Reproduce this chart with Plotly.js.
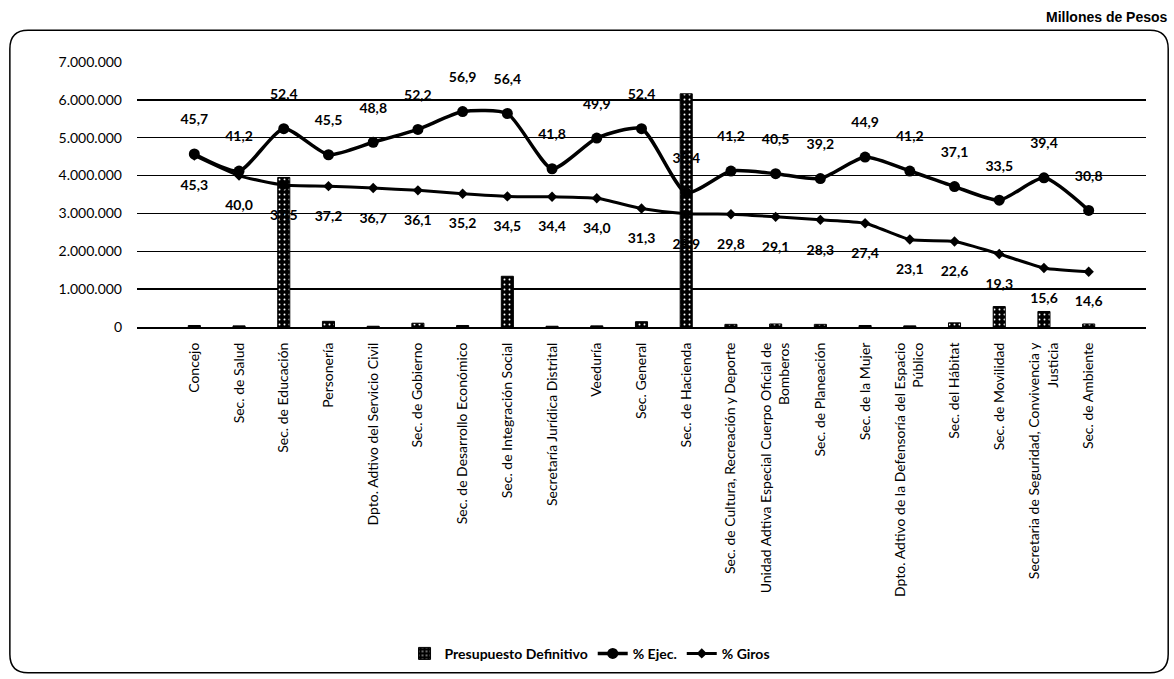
<!DOCTYPE html>
<html>
<head>
<meta charset="utf-8">
<script src="https://cdn.plot.ly/plotly-3.0.1.min.js"></script>
<style>html,body{margin:0;padding:0;background:#fff;}#chart{width:1174px;height:679px;}</style>
</head>
<body>
<div id="chart"></div>
<script>
var categories = [
  "Concejo",
  "Sec. de Salud",
  "Sec. de Educación",
  "Personería",
  "Dpto. Adtivo del Servicio Civil",
  "Sec. de Gobierno",
  "Sec. de Desarrollo Económico",
  "Sec. de Integración Social",
  "Secretaría Jurídica Distrital",
  "Veeduría",
  "Sec. General",
  "Sec. de Hacienda",
  "Sec. de Cultura, Recreación y Deporte",
  "Unidad Adtiva Especial Cuerpo Oficial de<br>Bomberos",
  "Sec. de Planeación",
  "Sec. de la Mujer",
  "Dpto. Adtivo de la Defensoría del Espacio<br>Público",
  "Sec. del Hábitat",
  "Sec. de Movilidad",
  "Secretaria de Seguridad, Convivencia y<br>Justicia",
  "Sec. de Ambiente"
];
var presupuesto = [40000, 30000, 3950000, 150000, 20000, 100000, 40000, 1340000, 20000, 30000, 140000, 6160000, 70000, 80000, 70000, 40000, 30000, 110000, 540000, 410000, 80000];
var ejec = [45.7, 41.2, 52.4, 45.5, 48.8, 52.2, 56.9, 56.4, 41.8, 49.9, 52.4, 35.4, 41.2, 40.5, 39.2, 44.9, 41.2, 37.1, 33.5, 39.4, 30.8];
var giros = [45.3, 40.0, 37.5, 37.2, 36.7, 36.1, 35.2, 34.5, 34.4, 34.0, 31.3, 29.9, 29.8, 29.1, 28.3, 27.4, 23.1, 22.6, 19.3, 15.6, 14.6];

var FONT = "Lato, 'Liberation Sans', Arial, sans-serif";

var traces = [
  {
    type: "bar", name: "Presupuesto Definitivo", x: categories, y: presupuesto,
    width: 0.27,
    marker: {color: "#000", line: {color: "#000", width: 1},
             pattern: {shape: ".", fgcolor: "#ffffff", bgcolor: "#000000", size: 5, solidity: 0.12}},
    hoverinfo: "x+y"
  },
  {
    type: "scatter", mode: "lines+markers+text", name: "% Ejec.", x: categories, y: ejec, yaxis: "y2",
    line: {color: "#000", width: 3.5, shape: "spline", smoothing: 0.6},
    marker: {symbol: "circle", size: 11, color: "#000"},
    texttemplate: "%{y:.1f}<br> ", textposition: "top center",
    textfont: {family: FONT, size: 14, color: "#000000", weight: "bold"}, cliponaxis: false
  },
  {
    type: "scatter", mode: "lines+markers+text", name: "% Giros", x: categories, y: giros, yaxis: "y2",
    line: {color: "#000", width: 3, shape: "spline", smoothing: 0.6},
    marker: {symbol: "diamond", size: 8, color: "#000"},
    texttemplate: " <br>%{y:.1f}", textposition: "bottom center",
    textfont: {family: FONT, size: 14, color: "#000000", weight: "bold"}, cliponaxis: false
  }
];

var r = 0.018, ry = 0.07;
var x0 = -0.126, x1 = 1.022, y0 = -1.305, y1 = 1.12;
var border = "M " + (x0 + r) + "," + y1 + " L " + (x1 - r) + "," + y1 +
  " Q " + x1 + "," + y1 + " " + x1 + "," + (y1 - ry) +
  " L " + x1 + "," + (y0 + ry) + " Q " + x1 + "," + y0 + " " + (x1 - r) + "," + y0 +
  " L " + (x0 + r) + "," + y0 + " Q " + x0 + "," + y0 + " " + x0 + "," + (y0 + ry) +
  " L " + x0 + "," + (y1 - ry) + " Q " + x0 + "," + y1 + " " + (x0 + r) + "," + y1 + " Z";

var layout = {
  width: 1174, height: 679,
  separators: ",.",
  margin: {l: 137, r: 28, t: 62, b: 351},
  paper_bgcolor: "#fff", plot_bgcolor: "#fff",
  font: {family: FONT, color: "#000"},
  showlegend: true,
  legend: {orientation: "h", x: 0.449, xanchor: "center", y: -1.285, yanchor: "bottom",
           bgcolor: "rgba(0,0,0,0)",
           font: {family: FONT, size: 14, weight: "bold"}, traceorder: "normal"},
  xaxis: {type: "category", tickangle: -90, tickfont: {family: FONT, size: 14},
          showgrid: false, showline: true, linecolor: "#000", linewidth: 2,
          ticks: "", ticklabelstandoff: 8, automargin: false},
  yaxis: {range: [0, 7000000], tickvals: [0, 1000000, 2000000, 3000000, 4000000, 5000000, 6000000, 7000000],
          tickformat: ",d", showgrid: true, gridcolor: "#000", gridwidth: 1.5,
          zeroline: false, showline: false, ticks: "", ticklen: 0, ticklabelstandoff: 14,
          tickfont: {family: FONT, size: 14}, automargin: false},
  yaxis2: {range: [0, 70], overlaying: "y", side: "right", visible: false, showgrid: false},
  bargap: 0.7,
  annotations: [
    {text: "<b>Millones de Pesos</b>", xref: "paper", yref: "paper", x: 1.024, y: 1.169,
     xanchor: "right", yanchor: "middle", showarrow: false,
     font: {family: "'Liberation Sans', Arial, sans-serif", size: 14, color: "#000"}}
  ],
  shapes: [
    {type: "path", xref: "paper", yref: "paper", path: border, line: {color: "#000", width: 1.5}, layer: "below"}
  ]
};

Plotly.newPlot("chart", traces, layout, {displayModeBar: false, staticPlot: true});
</script>
</body>
</html>
